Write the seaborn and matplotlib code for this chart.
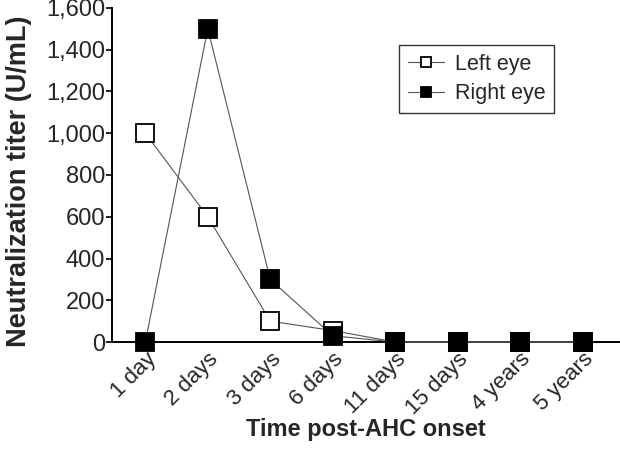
import pandas as pd
import seaborn as sns
import matplotlib.pyplot as plt

# data
time_points = ['1 day', '2 days', '3 days', '6 days', '11 days', '15 days', '4 years', '5 years']
left_eye = [1000, 600, 100, 55, 0, 0, 0, 0]
right_eye = [0, 1500, 300, 30, 0, 0, 0, 0]

df = pd.DataFrame({
    'time': time_points * 2,
    'titer': left_eye + right_eye,
    'eye': ['Left eye'] * len(time_points) + ['Right eye'] * len(time_points),
})

sns.set_theme(style='ticks')
plt.rcParams['font.family'] = ['Liberation Sans', 'DejaVu Sans']

fig = plt.figure(figsize=(6.2, 4.66), dpi=100)
ax = fig.add_axes([0.181, 0.266, 0.819, 0.717])

face = {'Left eye': 'white', 'Right eye': 'black'}
for eye in ['Left eye', 'Right eye']:
    sns.lineplot(
        data=df[df['eye'] == eye], x='time', y='titer', sort=False,
        color='#555555', lw=0.8, marker='s', markersize=12.5,
        markerfacecolor=face[eye], markeredgecolor='black', markeredgewidth=1.3,
        label=eye, ax=ax, clip_on=False, zorder=3,
    )

ax.set_ylim(0, 1600)
ax.set_xlim(-0.53, 7.6)
ax.set_yticks(range(0, 1601, 200))
ax.set_yticklabels([f'{v:,}' for v in range(0, 1601, 200)], fontsize=17)
ax.tick_params(axis='y', length=4, width=1.2, color='black', pad=1)
ax.tick_params(axis='x', length=0, pad=5)
plt.setp(ax.get_xticklabels(), rotation=45, ha='right', rotation_mode='anchor', fontsize=16)

ax.set_xlabel('Time post-AHC onset', fontsize=17, fontweight='bold', labelpad=-1)
ax.set_ylabel('Neutralization titer (U/mL)', fontsize=19.5, fontweight='bold')
ax.yaxis.set_label_coords(-0.158, 0.482)

for s in ['top', 'right']:
    ax.spines[s].set_visible(False)
for s in ['left', 'bottom']:
    ax.spines[s].set_linewidth(1.4)
    ax.spines[s].set_color('black')

leg = ax.legend(loc='upper left', bbox_to_anchor=(0.565, 0.889), fontsize=15.5,
                frameon=True, fancybox=False, edgecolor='black', markerscale=0.6,
                handlelength=1.7, borderpad=0.4, labelspacing=0.4, handletextpad=0.5,
                borderaxespad=0)
leg.get_frame().set_linewidth(1.0)

fig.savefig('out.png', dpi=100)
